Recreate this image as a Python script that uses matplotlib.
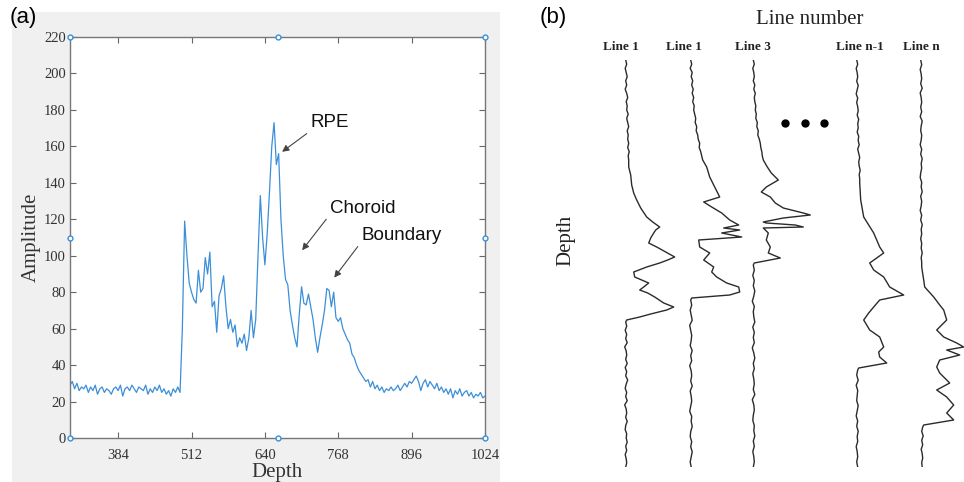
import numpy as np
import matplotlib
matplotlib.use('Agg')
import matplotlib.pyplot as plt
from matplotlib.patches import Rectangle

# === PANEL (a): A-scan amplitude vs depth ===
depth_start, depth_step = 300, 4
amplitude = [
    # 300 - 492 : background before the retina
    29, 31, 27, 30, 26, 28, 27, 29, 25, 28, 26, 29, 24, 27, 28, 25, 27, 26, 24, 27,
    28, 26, 29, 23, 27, 28, 26, 29, 27, 25, 28, 27, 26, 29, 24, 27, 25, 28, 26, 29,
    25, 27, 24, 26, 23, 27, 25, 28, 25,
    # 496 - 692 : retina / RPE
    60, 119, 100, 85, 80, 76, 74, 92, 80, 82, 99, 90, 102, 72, 75, 58, 78, 82, 89, 72,
    60, 65, 58, 62, 50, 55, 52, 57, 48, 55, 70, 55, 65, 100, 133, 110, 95, 112, 135, 160,
    173, 150, 156, 120, 100, 87, 84, 70, 62, 55,
    # 696 - 1024 : choroid and tail
    50, 68, 83, 74, 73, 79, 72, 65, 55, 47, 55, 62, 70, 82, 81, 72, 80, 66, 64, 66,
    60, 57, 54, 52, 46, 44, 40, 37, 35, 33, 31, 32, 28, 31, 27, 29, 26, 28, 25, 27,
    26, 28, 26, 27, 29, 26, 28, 30, 28, 31, 30, 32, 34, 31, 26, 30, 32, 28, 31, 29,
    27, 30, 26, 28, 25, 27, 24, 27, 22, 26, 24, 27, 23, 25, 26, 23, 25, 22, 24, 23,
    25, 22, 23,
]
depth = np.arange(len(amplitude)) * depth_step + depth_start

x_ticks = [384, 512, 640, 768, 896, 1024]
y_ticks = list(range(0, 221, 20))

# annotations: label, arrow head (depth, amp), arrow tail, text anchor
notes = [
    ('RPE', (670, 157), (713, 167), (719, 173)),
    ('Choroid', (705, 103), (747, 120), (754, 126)),
    ('Boundary', (761, 88), (802, 105), (808, 111)),
]

# === PANEL (b): several A-lines, depth downward ===
line_labels = ['Line 1', 'Line 1', 'Line 3', 'Line n-1', 'Line n']
line_offsets = [625.7, 690.7, 753.3, 856.7, 920.7]
max_depth = 407

# each trace: flat top part, the reflective layers, flat bottom part
t1_top = [0, 1, -0.5, 0.5, 1.5, 0, 1, -0.5, 1, 2, 0.5, 1.5, 1, 2.5, 1, 2, 3, 1.5, 2.5, 2,
          3, 2, 3.5, 2.5, 3]
t1_depth = [107, 115, 125, 133, 140, 148, 157, 162, 167, 170, 173, 178, 183, 187, 192, 197,
            200, 203, 207, 212, 217, 223, 227, 230, 233, 237, 243, 247, 250, 254, 257, 260]
t1_amp = [3, 5, 6, 8, 11, 15, 21, 27, 34, 30, 28, 25, 23, 31, 40, 49,
          42, 34, 21, 8, 9, 23, 18, 14, 22, 29, 38, 48, 41, 25, 14, 1]
t1_bot = [0, 1, -0.5, 1, 0, 1.5, -1, 0.5, 1, 0, 1.5, -0.5, 1, 0, 2, 0.5, -0.5, 1, 0, 1.5,
          -1, 0.5, 1, 0, 1.5, 0, -0.5, 1, 0.5, 1.5, 0, 1, -0.5, 0.5, 1, 0]

t2_top = [0, 1, -0.5, 1.5, 0.5, 2, 1, 2.5, 1.5, 3, 2, 3.5, 3, 4, 5, 4.5, 6, 5.5, 7, 7.5,
          9, 8.5, 10, 11, 12]
t2_depth = [107, 117, 127, 137, 142, 147, 153, 160, 165, 168, 170, 173, 177, 180, 187, 193,
            200, 207, 212, 217, 223, 227, 232, 235, 238]
t2_amp = [16, 19, 24, 29, 13, 21, 31, 39, 48, 33, 49, 31, 51, 8, 9, 19,
          13, 23, 21, 26, 36, 48, 49, 39, 1]
t2_bot = [0, 1, -0.5, 0.5, 1.5, -1, 0, 1, 0.5, -0.5, 1.5, 0, 1, -1, 0.5, 1, 0, 1.5, -0.5, 0.5,
          1, 0, -1, 1, 0.5, 1.5, 0, -0.5, 1, 0, 1.5, 0.5, -0.5, 0.5]

t3_top = [0, 1, -0.5, 0.5, 1, 0, 1.5, 0.5, 2, 1, 1.5, 2.5, 2, 3, 2.5, 4, 3.5, 5, 4.5, 6,
          7, 7.5, 8.5, 9, 10]
t3_depth = [107, 113, 120, 127, 132, 137, 143, 148, 153, 155, 158, 162, 163, 165, 167, 168,
            173, 180, 187, 193, 198, 203]
t3_amp = [14, 18, 25, 13, 8, 17, 22, 30, 50, 57, 30, 10, 13, 42, 50, 10,
          15, 13, 17, 15, 27, 1]
t3_bot = [0, 1, -0.5, 1, 0, 1.5, 0.5, -1, 1, 0, 0.5, 1.5, -0.5, 1, 0, 1, -1, 0.5, 1.5, 0,
          1, -0.5, 0.5, 1, 0, 1.5, -1, 0.5, 1, 0, -0.5, 1, 0.5, 1.5, 0, 1, -0.5, 0.5, 1, 0]

t4_top = [0, 1, -0.5, 0.5, 1, 0, 1.5, 0.5, -0.5, 1, 0, 1, 1.5, 0.5, 2, 1, 1.5, 0.5, 2, 1.5,
          2.5, 1, 2, 3, 2, 2.5, 3.5, 2.5, 3, 3]
t4_depth = [140, 157, 165, 173, 180, 187, 193, 198, 203, 210, 217, 222, 227, 235, 240, 247,
            253, 260, 265, 270, 277, 282, 287, 292, 297, 303, 308]
t4_amp = [4, 7, 12, 17, 20, 23, 27, 20, 13, 17, 27, 30, 33, 47, 23, 17,
          12, 7, 10, 13, 23, 25, 27, 22, 23, 30, 2]
t4_bot = [1, 0, 1.5, -0.5, 1, 0.5, 0, 1.5, 0.5, -0.5, 1, 0, 1.5, 0.5, 1, -0.5, 0.5, 1, 0, 1]

t5_top = [0, 1, -0.5, 0.5, 1, 0, 1.5, -0.5, 0.5, 1, 0, 1, -0.5, 1.5, 0.5, 0, 1, 0.5, -0.5, 1,
          0, 1.5, 0.5, 1, 0, -0.5, 1, 0.5, 1.5, 0, 1, 0.5, -0.5, 1, 0, 1.5, 0.5, 1, 0, 1,
          0.5, 1.5, 0.5, 1, 1]
t5_depth = [220, 227, 237, 245, 250, 260, 270, 277, 283, 287, 290, 295, 300, 307, 313, 318,
            323, 330, 337, 345, 353, 360, 365]
t5_amp = [3, 4, 13, 19, 23, 26, 16, 23, 36, 43, 26, 39, 19, 16, 19, 24,
          29, 16, 26, 33, 26, 33, 3]
t5_bot = [2, 1, 2.5, 1, 2, 0.5, 1.5, 2, 1, 1.5]

traces = [
    (t1_top, 100, t1_depth, t1_amp, 262, t1_bot),
    (t2_top, 100, t2_depth, t2_amp, 240, t2_bot),
    (t3_top, 100, t3_depth, t3_amp, 205, t3_bot),
    (t4_top, 123, t4_depth, t4_amp, 310, t4_bot),
    (t5_top, 207, t5_depth, t5_amp, 367, t5_bot),
]

serif = ['Liberation Serif', 'DejaVu Serif']
sans = ['Liberation Sans', 'DejaVu Sans']

W, H = 964, 482
fig = plt.figure(figsize=(W / 100, H / 100), dpi=100)

# light grey MATLAB figure background behind panel (a)
fig.patches.append(Rectangle((12 / W, 0), (500 - 12) / W, (H - 12) / H,
                             transform=fig.transFigure, facecolor='#f0f0f0',
                             edgecolor='none', zorder=-10))

# --- panel (a) ---
ax = fig.add_axes([70 / W, (H - 438) / H, (485 - 70) / W, (438 - 37) / H])
ax.set_zorder(1)
ax.plot(depth, amplitude, color='#3b8fd8', lw=0.9)
ax.set_xlim(300, 1024)
ax.set_ylim(0, 220)
ax.set_xticks(x_ticks)
ax.set_yticks(y_ticks)
ax.tick_params(direction='in', length=4, width=0.8, color='#666666',
               top=True, right=True, labelsize=10.5, labelcolor='#333333')
ax.tick_params(axis='x', pad=8)
ax.tick_params(axis='y', pad=3)
for lab in ax.get_xticklabels() + ax.get_yticklabels():
    lab.set_family(serif)
for sp in ax.spines.values():
    sp.set_color('#777777')
    sp.set_linewidth(1.0)
ax.set_xlabel('Depth', family=serif, fontsize=15, color='#333333', labelpad=1)
ax.set_ylabel('Amplitude', family=serif, fontsize=15, color='#333333', labelpad=2)

# edit handles on the axes box
hx = [0, 0.5, 1, 0, 1, 0, 0.5, 1]
hy = [1, 1, 1, 0.5, 0.5, 0, 0, 0]
ax.plot(hx, hy, 'o', ms=3.5, mfc='white', mec='#3b8fd8', mew=1.0,
        transform=ax.transAxes, clip_on=False, zorder=5)

for label, head, tail, anchor in notes:
    ax.annotate('', xy=head, xytext=tail,
                arrowprops=dict(arrowstyle='-|>', color='#444444', lw=0.8,
                                mutation_scale=10, shrinkA=0, shrinkB=0))
    ax.text(anchor[0], anchor[1], label, family=sans, fontsize=13.5,
            color='#111111', va='center', ha='left')

fig.text(10 / W, 1 - 18 / H, '(a)', family=sans, fontsize=16, va='center', ha='left')

# --- panel (b) ---
bx = fig.add_axes([560 / W, (H - 467) / H, (W - 560) / W, max_depth / H])
bx.set_xlim(560, W)
bx.set_ylim(max_depth, 0)
bx.axis('off')
for (top, top_end, fd, fa, bot_start, bot), off in zip(traces, line_offsets):
    d = np.concatenate([np.linspace(0, top_end, len(top)), fd,
                        np.linspace(bot_start, max_depth, len(bot))])
    a = np.concatenate([top, fa, bot])
    bx.plot(a + off, d, color='#2b2b2b', lw=1.0)

label_x = [620.7, 684, 752.7, 860, 921.7]
for lx, lab in zip(label_x, line_labels):
    fig.text(lx / W, 1 - 47 / H, lab, family=serif, fontsize=9.5,
             fontweight='bold', ha='center', va='center', color='#222222')

bx.plot([785, 805, 824], [63, 63, 63], 'o', color='black', ms=5, clip_on=False)

fig.text(810 / W, 1 - 20 / H, 'Line number', family=serif, fontsize=15,
         ha='center', va='center', color='#222222')
fig.text(566 / W, 1 - 240 / H, 'Depth', family=serif, fontsize=15, rotation=90,
         ha='center', va='center', color='#222222')
fig.text(540 / W, 1 - 18 / H, '(b)', family=sans, fontsize=16, va='center', ha='left')

fig.savefig('out.png', dpi=100)
